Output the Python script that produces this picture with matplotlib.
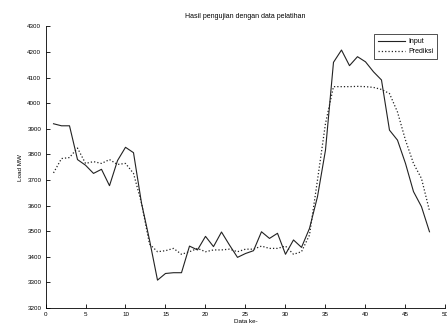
import matplotlib
matplotlib.use("Agg")
import matplotlib.pyplot as plt

x_data = list(range(1, 49))
input_load = [3920, 3912, 3912, 3780, 3758, 3726, 3742, 3678, 3776, 3828,
              3807, 3610, 3466, 3309, 3335, 3338, 3338, 3442, 3427, 3480,
              3440, 3497, 3446, 3398, 3413, 3424, 3498, 3472, 3492, 3410,
              3466, 3437, 3511, 3635, 3817, 4160, 4208, 4147, 4182, 4162,
              4123, 4091, 3895, 3856, 3765, 3655, 3596, 3498]
pred_load = [3728, 3784, 3788, 3825, 3765, 3772, 3765, 3780, 3761, 3765,
             3726, 3610, 3450, 3420, 3424, 3433, 3410, 3420, 3433, 3420,
             3427, 3427, 3430, 3420, 3430, 3430, 3442, 3433, 3433, 3442,
             3410, 3420, 3485, 3700, 3921, 4065, 4065, 4065, 4066, 4065,
             4062, 4054, 4038, 3966, 3856, 3765, 3706, 3580]

title = "Hasil pengujian dengan data pelatihan"
xlabel = "Data ke-"
ylabel = "Load MW"
xticks = [0, 5, 10, 15, 20, 25, 30, 35, 40, 45, 50]
yticks = [3200, 3300, 3400, 3500, 3600, 3700, 3800, 3900, 4000, 4100, 4200, 4300]

plt.rcParams['font.family'] = ['Liberation Sans', 'DejaVu Sans']
fig = plt.figure(figsize=(4.47, 3.27), dpi=100)
ax = fig.add_axes([0.1018, 0.058, 0.8948, 0.861])
ax.plot(x_data, input_load, '-', color='#222222', lw=0.8, label='Input')
ax.plot(x_data, pred_load, ':', color='#222222', lw=0.9, label='Prediksi')
ax.set_xlim(0, 50)
ax.set_ylim(3200, 4300)
ax.set_xticks(xticks)
ax.set_yticks(yticks)
ax.tick_params(direction='in', length=3, width=0.6, labelsize=4.5, pad=3)
for s in ['top', 'right']:
    ax.spines[s].set_visible(False)
for s in ['left', 'bottom']:
    ax.spines[s].set_linewidth(0.6)
ax.set_title(title, fontsize=5, pad=6)
ax.set_xlabel(xlabel, fontsize=4.5, labelpad=1.5)
ax.set_ylabel(ylabel, fontsize=4.5, labelpad=3)
leg = ax.legend(loc='upper right', bbox_to_anchor=(0.988, 0.985), fontsize=5,
                frameon=True, fancybox=False, edgecolor='black',
                handlelength=3.8, handletextpad=0.5, borderpad=0.55,
                labelspacing=0.45)
leg.get_frame().set_linewidth(0.6)
fig.savefig('out.png', dpi=100)
